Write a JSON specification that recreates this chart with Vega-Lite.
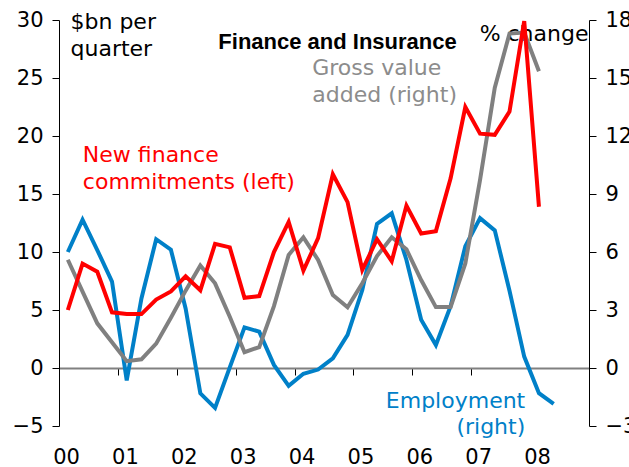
{
  "$schema": "https://vega.github.io/schema/vega-lite/v6.json",
  "width": 530,
  "height": 406,
  "autosize": {"type": "none"},
  "padding": {"left": 59, "top": 20, "right": 40, "bottom": 41},
  "background": "white",
  "config": {"view": {"stroke": null}, "font": "DejaVu Sans"},
  "data": {
    "values": [
      {"q": 0, "red": 5.0, "gray": 5.6, "blue": 6.0},
      {"q": 1, "red": 9.0, "gray": 3.95, "blue": 7.67},
      {"q": 2, "red": 8.3, "gray": 2.31, "blue": 6.1},
      {"q": 3, "red": 4.8, "gray": 1.33, "blue": 4.47},
      {"q": 4, "red": 4.65, "gray": 0.35, "blue": -0.64},
      {"q": 5, "red": 4.65, "gray": 0.45, "blue": 3.6},
      {"q": 6, "red": 5.9, "gray": 1.26, "blue": 6.66},
      {"q": 7, "red": 6.6, "gray": 2.6, "blue": 6.12},
      {"q": 8, "red": 7.9, "gray": 4.0, "blue": 3.08},
      {"q": 9, "red": 6.7, "gray": 5.3, "blue": -1.31},
      {"q": 10, "red": 10.7, "gray": 4.38, "blue": -2.06},
      {"q": 11, "red": 10.4, "gray": 2.65, "blue": 0.03},
      {"q": 12, "red": 6.05, "gray": 0.82, "blue": 2.1},
      {"q": 13, "red": 6.2, "gray": 1.08, "blue": 1.88},
      {"q": 14, "red": 10.0, "gray": 3.2, "blue": 0.16},
      {"q": 15, "red": 12.6, "gray": 5.85, "blue": -0.92},
      {"q": 16, "red": 8.4, "gray": 6.76, "blue": -0.3},
      {"q": 17, "red": 11.2, "gray": 5.59, "blue": -0.08},
      {"q": 18, "red": 16.7, "gray": 3.78, "blue": 0.5},
      {"q": 19, "red": 14.3, "gray": 3.14, "blue": 1.71},
      {"q": 20, "red": 8.45, "gray": 4.38, "blue": 4.03},
      {"q": 21, "red": 11.1, "gray": 5.79, "blue": 7.45},
      {"q": 22, "red": 9.2, "gray": 6.76, "blue": 8.0},
      {"q": 23, "red": 14.0, "gray": 6.14, "blue": 5.59},
      {"q": 24, "red": 11.6, "gray": 4.55, "blue": 2.5},
      {"q": 25, "red": 11.8, "gray": 3.15, "blue": 1.19},
      {"q": 26, "red": 16.35, "gray": 3.15, "blue": 3.2},
      {"q": 27, "red": 22.5, "gray": 5.41, "blue": 6.3},
      {"q": 28, "red": 20.2, "gray": 9.73, "blue": 7.75},
      {"q": 29, "red": 20.1, "gray": 14.5, "blue": 7.12},
      {"q": 30, "red": 22.1, "gray": 17.3, "blue": 4.0},
      {"q": 31, "red": 29.9, "gray": 17.35, "blue": 0.59},
      {"q": 32, "red": 13.9, "gray": 15.35, "blue": -1.3},
      {"q": 33, "red": null, "gray": null, "blue": -1.85}
    ]
  },
  "layer": [
    {
      "layer": [
        {
          "mark": {"type": "line", "color": "#0080C8", "strokeWidth": 4},
          "encoding": {
            "x": {
              "field": "q", "type": "quantitative",
              "scale": {"domain": [-0.6, 35.4], "nice": false, "zero": false},
              "axis": {
                "values": [-0.6, 3.4, 7.4, 11.4, 15.4, 19.4, 23.4, 27.4, 31.4],
                "labelExpr": "'0' + round((datum.value + 0.6) / 4)",
                "offset": -58,
                "domainColor": "#808080", "domainWidth": 2,
                "tickColor": "#000000", "tickSize": 7, "tickWidth": 1,
                "labelFont": "DejaVu Sans", "labelFontSize": 21, "labelColor": "#000000",
                "labelBaseline": "alphabetic", "labelPadding": 88, "labelOffset": 7,
                "labelFlush": false, "labelOverlap": false, "labelBound": false,
                "grid": false, "title": null
              }
            },
            "y": {
              "field": "blue", "type": "quantitative",
              "scale": {"domain": [-3, 18], "nice": false, "zero": false},
              "axis": {
                "orient": "right",
                "values": [-3, 0, 3, 6, 9, 12, 15, 18],
                "domainColor": "#000000", "domainWidth": 1,
                "tickColor": "#000000", "tickSize": 7, "tickWidth": 1,
                "labelFont": "DejaVu Sans", "labelFontSize": 21, "labelColor": "#000000",
                "labelPadding": 9, "grid": false,
                "title": "% change", "titleAngle": 0, "titleAlign": "right",
                "titleBaseline": "alphabetic", "titleX": -1, "titleY": 20,
                "titleFont": "DejaVu Sans", "titleFontSize": 22, "titleFontWeight": "normal",
                "titleColor": "#000000"
              }
            }
          }
        },
        {
          "mark": {"type": "line", "color": "#808080", "strokeWidth": 4},
          "encoding": {
            "x": {"field": "q", "type": "quantitative", "scale": {"domain": [-0.6, 35.4], "nice": false, "zero": false}},
            "y": {"field": "gray", "type": "quantitative", "scale": {"domain": [-3, 18], "nice": false, "zero": false}}
          }
        }
      ]
    },
    {
      "layer": [
        {
          "mark": {"type": "line", "color": "#FF0000", "strokeWidth": 4},
          "encoding": {
            "x": {"field": "q", "type": "quantitative", "scale": {"domain": [-0.6, 35.4], "nice": false, "zero": false}},
            "y": {
              "field": "red", "type": "quantitative",
              "scale": {"domain": [-5, 30], "nice": false, "zero": false},
              "axis": {
                "orient": "left",
                "values": [-5, 0, 5, 10, 15, 20, 25, 30],
                "domainColor": "#000000", "domainWidth": 1,
                "tickColor": "#000000", "tickSize": 7, "tickWidth": 1,
                "labelFont": "DejaVu Sans", "labelFontSize": 21, "labelColor": "#000000",
                "labelPadding": 9, "grid": false,
                "title": ["$bn per", "quarter"], "titleAngle": 0, "titleAlign": "left",
                "titleBaseline": "alphabetic", "titleX": 11, "titleY": 8, "titleLineHeight": 27,
                "titleFont": "DejaVu Sans", "titleFontSize": 22, "titleFontWeight": "normal",
                "titleColor": "#000000"
              }
            }
          }
        },
        {
          "data": {"values": [{"label": "Finance and Insurance"}]},
          "mark": {"type": "text", "font": "Liberation Sans", "fontWeight": "bold", "fontSize": 22, "align": "center", "baseline": "alphabetic", "color": "#000000"},
          "encoding": {
            "x": {"datum": 18.32, "type": "quantitative", "scale": {"domain": [-0.6, 35.4], "nice": false, "zero": false}},
            "y": {"datum": 27.5, "type": "quantitative", "scale": {"domain": [-5, 30], "nice": false, "zero": false}},
            "text": {"field": "label"}
          }
        },
        {
          "data": {"values": [{"label": ["Gross value", "added (right)"]}]},
          "mark": {"type": "text", "font": "DejaVu Sans", "fontSize": 22, "align": "left", "baseline": "alphabetic", "lineHeight": 27, "color": "#8C8C8C"},
          "encoding": {
            "x": {"datum": 16.6, "type": "quantitative", "scale": {"domain": [-0.6, 35.4], "nice": false, "zero": false}},
            "y": {"datum": 25.26, "type": "quantitative", "scale": {"domain": [-5, 30], "nice": false, "zero": false}},
            "text": {"field": "label"}
          }
        },
        {
          "data": {"values": [{"label": ["New finance", "commitments (left)"]}]},
          "mark": {"type": "text", "font": "DejaVu Sans", "fontSize": 22, "align": "left", "baseline": "alphabetic", "lineHeight": 27, "color": "#FF0000"},
          "encoding": {
            "x": {"datum": 1.02, "type": "quantitative", "scale": {"domain": [-0.6, 35.4], "nice": false, "zero": false}},
            "y": {"datum": 17.76, "type": "quantitative", "scale": {"domain": [-5, 30], "nice": false, "zero": false}},
            "text": {"field": "label"}
          }
        },
        {
          "data": {"values": [{"label": ["Employment", "(right)"]}]},
          "mark": {"type": "text", "font": "DejaVu Sans", "fontSize": 22, "align": "right", "baseline": "alphabetic", "lineHeight": 26, "color": "#0080C8"},
          "encoding": {
            "x": {"datum": 31.07, "type": "quantitative", "scale": {"domain": [-0.6, 35.4], "nice": false, "zero": false}},
            "y": {"datum": -3.45, "type": "quantitative", "scale": {"domain": [-5, 30], "nice": false, "zero": false}},
            "text": {"field": "label"}
          }
        }
      ]
    }
  ],
  "resolve": {"scale": {"y": "independent"}}
}
